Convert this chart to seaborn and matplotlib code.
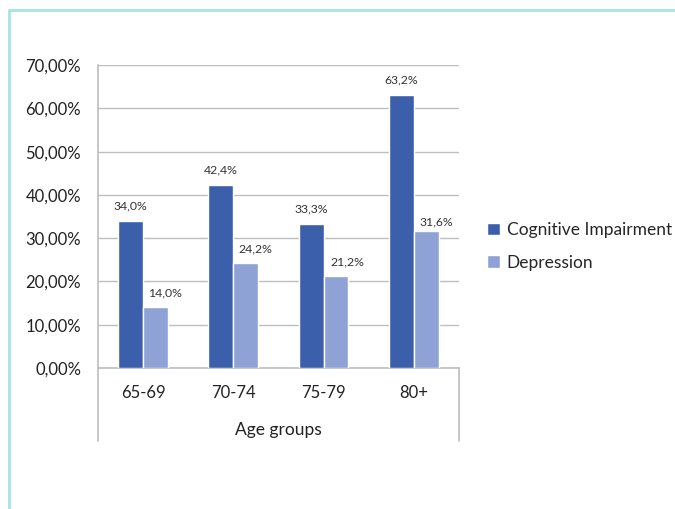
import pandas as pd
import seaborn as sns
import matplotlib.pyplot as plt
from matplotlib.patches import Patch
from matplotlib.lines import Line2D

age_groups = ['65-69', '70-74', '75-79', '80+']
cognitive = [34.0, 42.4, 33.3, 63.2]
depression = [14.0, 24.2, 21.2, 31.6]
series = ['Cognitive Impairment', 'Depression']
y_ticks = [0, 10, 20, 30, 40, 50, 60, 70]
y_tick_labels = ['0,00%', '10,00%', '20,00%', '30,00%', '40,00%', '50,00%', '60,00%', '70,00%']

df = pd.DataFrame({
    'age': age_groups * 2,
    'series': [series[0]] * 4 + [series[1]] * 4,
    'value': cognitive + depression,
})

sns.set_style('white')
plt.rcParams['font.family'] = ['Lato', 'DejaVu Sans']
colors = ['#3C5FAC', '#8FA2D6']

fig = plt.figure(figsize=(6.75, 5.09), dpi=100)
ax = fig.add_axes([0.145, 0.277, 0.535, 0.595])

sns.barplot(data=df, x='age', y='value', hue='series', hue_order=series,
            order=age_groups, palette=colors, width=0.55, saturation=1,
            legend=False, ax=ax, zorder=3)

# data labels, depression ones nudged right like the original
label_offsets = [[(0, 6.5)] * 4, [(7, 6.5), (7, 6.5), (8, 6.5), (7, 3)]]
for cont, vals, offs in zip(ax.containers, [cognitive, depression], label_offsets):
    for bar, v, off in zip(cont, vals, offs):
        ax.annotate(f'{v:.1f}%'.replace('.', ','),
                    (bar.get_x() + bar.get_width() / 2, bar.get_height()),
                    xytext=off, textcoords='offset points', ha='center', va='bottom',
                    fontsize=8.8, color='#333333')

ax.set_ylim(0, 70)
ax.set_yticks(y_ticks)
ax.set_yticklabels(y_tick_labels, fontsize=12, color='#222222')
ax.tick_params(axis='x', labelsize=12, colors='#222222', length=0, pad=12)
ax.tick_params(axis='y', length=0, pad=12)
ax.grid(axis='y', color='#BEBEBE', linewidth=1, zorder=0)
ax.set_xlabel('Age groups', fontsize=12.5, color='#222222', labelpad=15)
ax.set_ylabel('')

for side in ['top', 'right']:
    ax.spines[side].set_visible(False)
for side in ['left', 'bottom']:
    ax.spines[side].set_color('#BEBEBE')
    ax.spines[side].set_linewidth(1.2)

# box under the category axis
for xx in [0, 1]:
    ax.add_line(Line2D([xx, xx], [0, -0.24], transform=ax.transAxes,
                       color='#BEBEBE', linewidth=1.2, clip_on=False))

handles = [Patch(facecolor=c, label=s) for c, s in zip(colors, series)]
fig.legend(handles=handles, loc='center left', bbox_to_anchor=(0.699, 0.516),
           frameon=False, fontsize=12.5, handlelength=0.7, handleheight=0.7,
           handletextpad=0.4, labelspacing=0.95)

# cyan frame at top and left
fig.add_artist(Line2D([0.013, 1.0], [0.98, 0.98], color='#A8E4E6', linewidth=2))
fig.add_artist(Line2D([0.013, 0.013], [0.0, 0.98], color='#A8E4E6', linewidth=2))

fig.savefig('out.png', dpi=100)
